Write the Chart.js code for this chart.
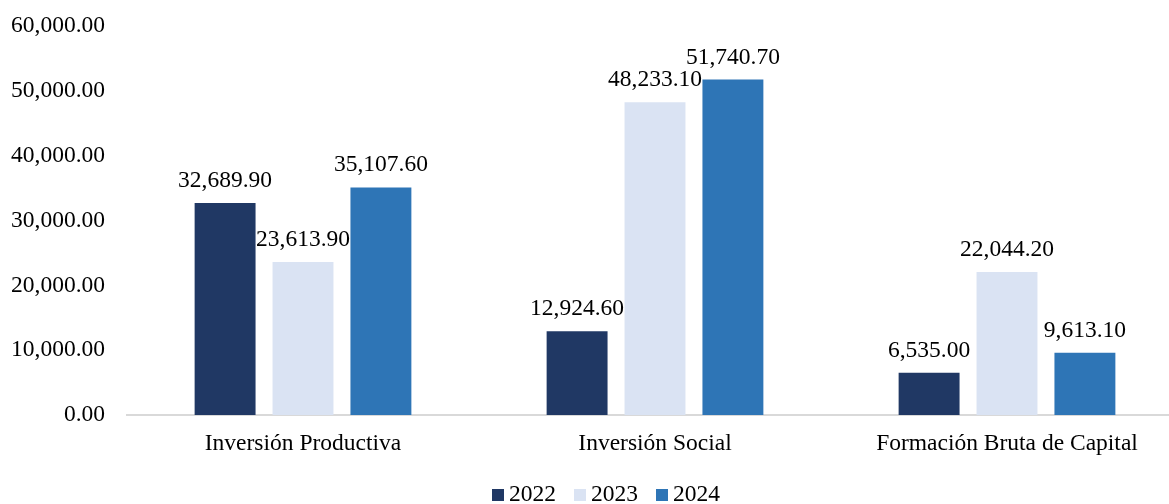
<!DOCTYPE html>
<html>
<head>
<meta charset="utf-8">
<script src="https://cdn.jsdelivr.net/npm/chart.js@4.4.1/dist/chart.umd.min.js"></script>
<style>
  html, body { margin: 0; padding: 0; background: #ffffff; overflow: hidden; }
  #wrap { width: 1169px; height: 504px; position: relative; overflow: hidden; }
  #chart { position: absolute; left: 0; top: 0; }
</style>
</head>
<body>
<div id="wrap"><canvas id="chart" width="1183" height="504"></canvas></div>
<script>
// Categories and yearly amounts
const categories = ['Inversión Productiva', 'Inversión Social', 'Formación Bruta de Capital'];
const years = ['2022', '2023', '2024'];
const values2022 = [32689.90, 12924.60, 6535.00];
const values2023 = [23613.90, 48233.10, 22044.20];
const values2024 = [35107.60, 51740.70, 9613.10];
const yTicks = [0, 10000, 20000, 30000, 40000, 50000, 60000];

const colors = ['#203864', '#dae3f3', '#2e75b6'];
const FONT = 'Liberation Serif, "Times New Roman", serif';
const FS = 23.5;

const fmt = v => v.toLocaleString('en-US', { minimumFractionDigits: 2, maximumFractionDigits: 2 });

// Value labels above each bar
const valueLabels = {
  id: 'valueLabels',
  afterDatasetsDraw(chart) {
    const ctx = chart.ctx;
    ctx.save();
    ctx.font = FS + 'px ' + FONT;
    ctx.fillStyle = '#000';
    ctx.textAlign = 'center';
    ctx.textBaseline = 'alphabetic';
    chart.data.datasets.forEach((ds, i) => {
      chart.getDatasetMeta(i).data.forEach((bar, j) => {
        ctx.fillText(fmt(ds.data[j]), bar.x, bar.y - 16);
      });
    });
    ctx.restore();
  }
};

// Compact legend row under the axis
const bottomLegend = {
  id: 'bottomLegend',
  afterDraw(chart) {
    const ctx = chart.ctx;
    ctx.save();
    ctx.font = FS + 'px ' + FONT;
    ctx.textBaseline = 'alphabetic';
    const box = 12, gap = 5, spacing = 18;
    const items = chart.data.datasets.map(ds => ({ text: ds.label, color: ds.backgroundColor, w: ctx.measureText(ds.label).width }));
    const total = items.reduce((s, it) => s + box + gap + it.w, 0) + spacing * (items.length - 1);
    let x = 606 - total / 2;
    const baseY = 501;
    items.forEach(it => {
      ctx.fillStyle = it.color;
      ctx.fillRect(x, baseY - 12, box, box);
      ctx.fillStyle = '#000';
      ctx.textAlign = 'left';
      ctx.fillText(it.text, x + box + gap, baseY);
      x += box + gap + it.w + spacing;
    });
    ctx.restore();
  }
};

new Chart(document.getElementById('chart'), {
  type: 'bar',
  data: {
    labels: categories,
    datasets: [
      { label: years[0], data: values2022, backgroundColor: colors[0] },
      { label: years[1], data: values2023, backgroundColor: colors[1] },
      { label: years[2], data: values2024, backgroundColor: colors[2] }
    ]
  },
  options: {
    responsive: false,
    animation: false,
    devicePixelRatio: 1,
    layout: { padding: { top: 26, left: 0, right: 0, bottom: 0 } },
    datasets: { bar: { categoryPercentage: 0.664, barPercentage: 0.782 } },
    plugins: {
      legend: { display: false },
      tooltip: { enabled: false }
    },
    scales: {
      x: {
        grid: { display: false, drawTicks: false },
        border: { display: true, color: '#d9d9d9', width: 2 },
        ticks: { color: '#000', font: { family: FONT, size: FS }, padding: 15, maxRotation: 0 },
        afterFit(scale) { scale.height = 89; }
      },
      y: {
        min: 0,
        max: 60000,
        afterBuildTicks(scale) { scale.ticks = yTicks.map(v => ({ value: v })); },
        grid: { display: false, drawTicks: true, tickLength: 22 },
        border: { display: false },
        ticks: { color: '#000', font: { family: FONT, size: FS }, padding: 0, callback: v => fmt(v) },
        afterFit(scale) { scale.width = 127; }
      }
    }
  },
  plugins: [valueLabels, bottomLegend]
});
</script>
</body>
</html>
